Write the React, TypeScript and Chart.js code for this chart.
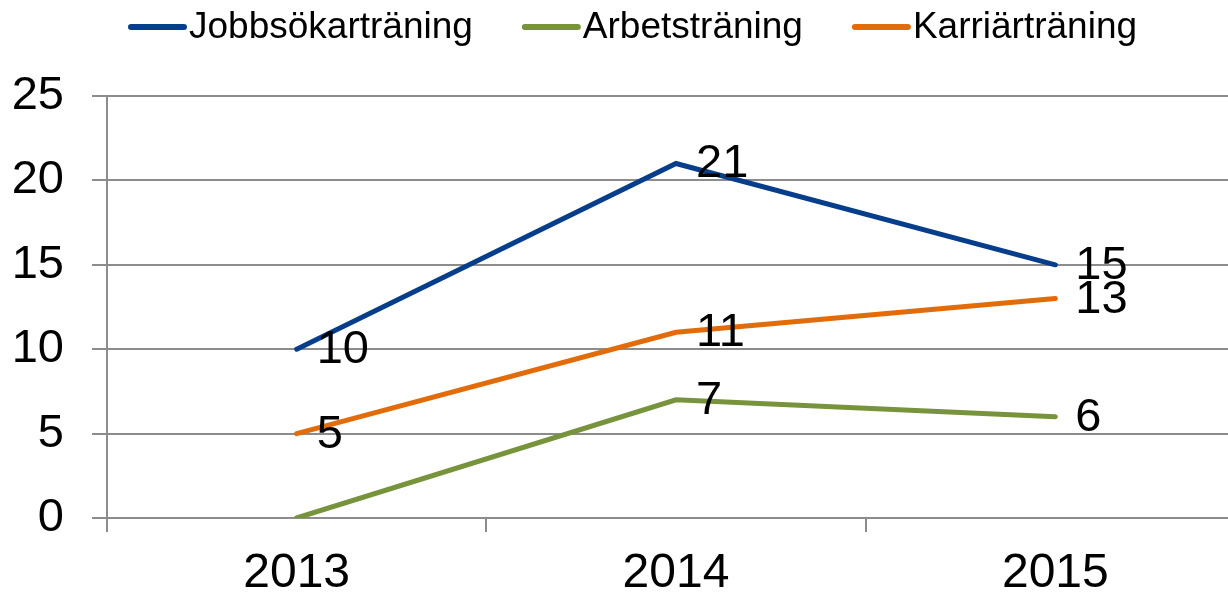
import React, { useEffect, useRef } from "react";
import { Chart, registerables } from "chart.js";

Chart.register(...registerables);

const categories = ["2013", "2014", "2015"];
const seriesNames = ["Jobbsökarträning", "Arbetsträning", "Karriärträning"];
const jobbsokar = [10, 21, 15];
const arbets = [0, 7, 6];
const karriar = [5, 11, 13];
const seriesColors = ["#073E8C", "#77933C", "#E36C0A"];
const yTicks = [0, 5, 10, 15, 20, 25];

const FONT = "'Liberation Sans', Arial, sans-serif";

const dataLabelPlugin = {
  id: "dataLabels",
  afterDatasetsDraw(chart: any) {
    const ctx = chart.ctx;
    ctx.save();
    ctx.font = `47px ${FONT}`;
    ctx.fillStyle = "#000000";
    ctx.textAlign = "left";
    ctx.textBaseline = "middle";
    chart.data.datasets.forEach((ds: any, i: number) => {
      const meta = chart.getDatasetMeta(i);
      meta.data.forEach((pt: any, j: number) => {
        const v = ds.data[j];
        if (v === 0) return;
        ctx.fillText(String(v), pt.x + 20, pt.y + 1);
      });
    });
    ctx.restore();
  },
};

const legendPlugin = {
  id: "customLegend",
  afterDraw(chart: any) {
    const ctx = chart.ctx;
    ctx.save();
    ctx.font = `37px ${FONT}`;
    ctx.textBaseline = "middle";
    ctx.textAlign = "left";
    let x = 131;
    const y = 27;
    chart.data.datasets.forEach((ds: any) => {
      ctx.strokeStyle = ds.borderColor;
      ctx.lineWidth = 6;
      ctx.lineCap = "round";
      ctx.beginPath();
      ctx.moveTo(x, y);
      ctx.lineTo(x + 53, y);
      ctx.stroke();
      ctx.fillStyle = "#000000";
      ctx.fillText(ds.label, x + 58, y + 1);
      const w = ctx.measureText(ds.label).width;
      x += 58 + w + 52;
    });
    ctx.restore();
  },
};

export default function App() {
  const canvasRef = useRef<HTMLCanvasElement | null>(null);

  useEffect(() => {
    if (!canvasRef.current) return;
    const data = [jobbsokar, arbets, karriar];
    const chart = new Chart(canvasRef.current, {
      type: "line",
      data: {
        labels: categories,
        datasets: seriesNames.map((name, i) => ({
          label: name,
          data: data[i],
          borderColor: seriesColors[i],
          backgroundColor: seriesColors[i],
          borderWidth: 5,
          borderCapStyle: "round" as const,
          borderJoinStyle: "miter" as const,
          pointRadius: 0,
          tension: 0,
          fill: false,
        })),
      },
      options: {
        animation: false,
        responsive: false,
        maintainAspectRatio: false,
        layout: { padding: { top: 96, left: 0, right: 0, bottom: 0 } },
        plugins: {
          legend: { display: false },
          tooltip: { enabled: false },
        },
        scales: {
          x: {
            offset: true,
            afterFit: (s: any) => {
              s.height = 76;
            },
            grid: {
              offset: true,
              drawOnChartArea: false,
              drawTicks: true,
              tickLength: 14,
              color: "#8C8C8C",
              lineWidth: 2,
            },
            border: { display: true, color: "#8C8C8C", width: 2 },
            ticks: {
              color: "#000000",
              font: { family: FONT, size: 48 },
              padding: 13,
              maxRotation: 0,
            },
          },
          y: {
            min: 0,
            max: 25,
            afterFit: (s: any) => {
              s.width = 107;
            },
            afterBuildTicks: (s: any) => {
              s.ticks = yTicks.map((v) => ({ value: v }));
            },
            grid: {
              color: "#8C8C8C",
              lineWidth: 2,
              drawTicks: true,
              tickLength: 15,
            },
            border: { display: true, color: "#8C8C8C", width: 2 },
            ticks: {
              color: "#000000",
              font: { family: FONT, size: 47 },
              padding: 28,
            },
          },
        },
      },
      plugins: [dataLabelPlugin, legendPlugin],
    });
    return () => chart.destroy();
  }, []);

  return (
    <div
      style={{
        position: "absolute",
        left: 0,
        top: 0,
        width: 1228,
        height: 594,
        overflow: "hidden",
        background: "#ffffff",
      }}
    >
      <canvas
        ref={canvasRef}
        width={1245}
        height={594}
        style={{ display: "block", width: 1245, height: 594 }}
      />
    </div>
  );
}
